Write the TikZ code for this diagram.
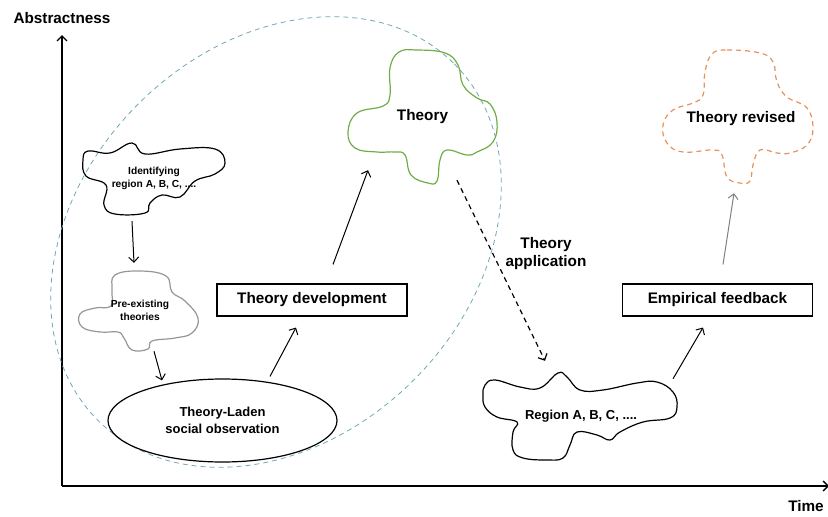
\documentclass[tikz,border=0pt]{standalone}
\usepackage{fontspec}
\setmainfont{Liberation Sans}
\usetikzlibrary{shapes.geometric, arrows.meta, positioning, calc}
\definecolor{grpteal}{RGB}{111,168,180}
\definecolor{thygreen}{RGB}{112,173,71}
\definecolor{revorange}{RGB}{230,146,92}
\definecolor{pregray}{RGB}{150,150,150}

\begin{document}
\begin{tikzpicture}[x=1pt,y=-1pt,
  every node/.style={font=\bfseries\fontsize{15.3}{18}\selectfont, align=center, inner sep=0pt},
  small/.style={font=\bfseries\fontsize{10.2}{13.5}\selectfont},
  mid/.style={font=\bfseries\fontsize{13}{17}\selectfont},
  box/.style={draw, line width=1.1pt, minimum width=190pt, minimum height=32pt},
  blob/.style={line width=1.2pt, smooth cycle, tension=0.7},
  arr/.style={-{Straight Barb[length=5pt,width=10pt]}, line width=1pt}]
  \useasboundingbox (0,0) rectangle (828,517);

  % axes
  \coordinate (origin) at (62,486);
  \coordinate (ytop) at (62,35);
  \coordinate (xend) at (829,486);
  \draw[arr, line width=1.3pt] (origin) -- (ytop);
  \draw[arr, line width=1.3pt] (origin) -- (xend);
  \node (ylab) at (62,18) {Abstractness};
  \node (xlab) at (806,506) {Time};

  % theory building group
  \draw[grpteal, line width=0.8pt, dash pattern=on 5pt off 4pt, rotate around={45:(276,242)}]
    (276,242) ellipse [x radius=252, y radius=195];

  % clouds
  \draw[blob] plot coordinates {(88,151) (110,153) (132,143) (145,154) (180,149) (215,149) (225,163) (215,174) (195,181) (180,197) (162,195) (150,203) (145,213) (115,214) (104,205) (106,185) (86,176) (83,160)};
  \draw[blob, pregray] plot coordinates {(115,275) (140,271) (166,276) (172,292) (185,301) (198,318) (192,333) (175,338) (152,341) (148,349) (132,350) (124,338) (118,332) (100,332) (82,327) (80,314) (95,308) (111,306) (112,290)};
  \draw[blob, thygreen] plot coordinates {(399,52) (417,50) (445,53) (458,65) (463,85) (477,98) (490,104) (497,122) (493,142) (477,152) (467,155) (447,150) (440,160) (437,181) (428,183) (411,175) (405,155) (395,152) (377,152) (355,148) (348,132) (357,113) (383,106) (390,95) (390,68)};
  \draw[blob, revorange, dash pattern=on 5pt off 4pt] plot coordinates {(712,54) (727,50) (760,53) (773,62) (777,82) (787,97) (807,108) (813,128) (807,145) (790,153) (777,153) (760,150) (753,165) (750,181) (740,183) (727,177) (722,155) (713,150) (683,152) (667,143) (663,125) (673,110) (693,103) (703,95) (705,72)};
  \draw[blob] plot coordinates {(485,385) (495,380) (520,387) (540,388) (558,373) (567,377) (580,390) (603,390) (637,383) (657,382) (673,392) (677,407) (670,418) (643,422) (620,432) (610,440) (597,435) (577,432) (570,445) (563,458) (547,460) (523,458) (513,450) (513,432) (517,422) (497,417) (485,407) (483,395)};

  \node[small, minimum width=142pt, minimum height=71pt] (idf) at (154,178.5) {Identifying\\region A, B, C, ....};
  \node[small, minimum width=118pt, minimum height=79pt] (pre) at (140,310.5) {Pre-existing\\theories};
  \node[mid, draw, ellipse, line width=1.2pt, minimum width=229pt, minimum height=83pt] (obs) at (222.5,420.5) {Theory-Laden\\social observation};
  \node[box] (dev) at (312,300) {Theory development};
  \node[minimum width=149pt, minimum height=133pt] (thy) at (422.5,116.5) {Theory};
  \node (app) at (546,254) {Theory\\application};
  \node[mid, minimum width=194pt, minimum height=87pt] (reg) at (581,416.5) {Region A, B, C, ....};
  \node[box] (emp) at (717.5,300) {Empirical feedback};
  \node[minimum width=150pt, minimum height=133pt] (rev) at (741,119) {Theory revised};

  % links
  \draw[arr] ($(idf.south)+(-22,7)$) -- ($(pre.north)+(-6,-8)$);
  \draw[arr] ($(pre.south)+(14,1)$) -- ($(obs.north)+(-60.5,2)$);
  \draw[arr] ($(obs.north)+(47.5,-2)$) -- ($(dev.south)+(-16,11)$);
  \draw[arr] ($(dev.north)+(21,-19)$) -- ($(thy.south)+(-54.5,-13)$);
  \draw[arr, dash pattern=on 5pt off 4pt, line width=1.2pt] ($(thy.south)+(34.5,-3)$) -- ($(reg.north)+(-36,-12)$);
  \draw[arr] ($(reg.north)+(92,6)$) -- ($(emp.south)+(-14.5,11)$);
  \draw[arr, gray] ($(emp.north)+(5.5,-19)$) -- ($(rev.south)+(-7,7.5)$);
\end{tikzpicture}
\end{document}
